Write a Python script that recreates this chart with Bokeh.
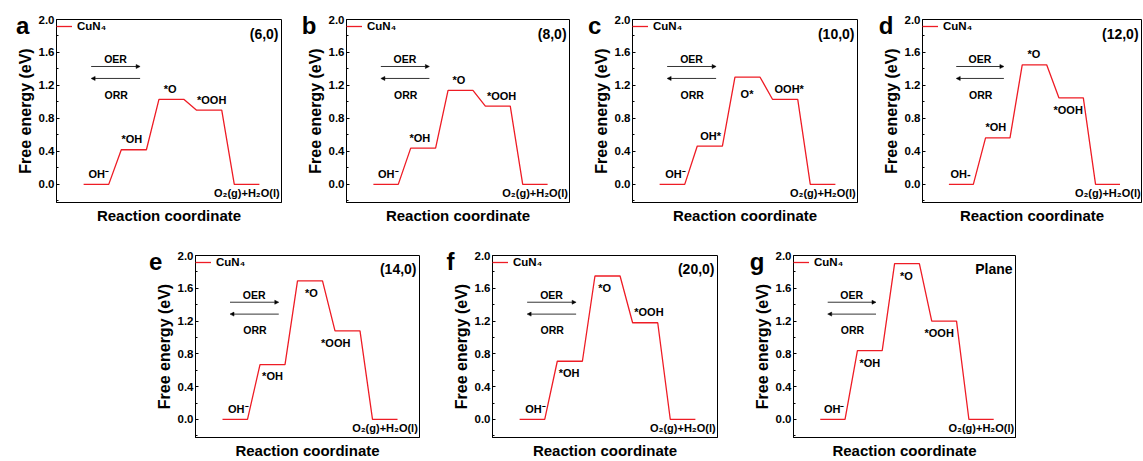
from bokeh.plotting import figure
from bokeh.models import (FixedTicker, Label, Arrow, NormalHead, Legend,
                          LegendItem, Spacer, PrintfTickFormatter)
from bokeh.layouts import row, column
from bokeh.embed import file_html
from bokeh.resources import INLINE
from bokeh.core.properties import value

# ---------------- data ----------------
panel_letters = ["a", "b", "c", "d", "e", "f", "g"]
structures = ["(6,0)", "(8,0)", "(10,0)", "(12,0)", "(14,0)", "(20,0)", "Plane"]
series_name = "CuN\u2084"

energy_a = [0.0, 0.42, 1.03, 0.90, 0.0]
energy_b = [0.0, 0.44, 1.14, 0.95, 0.0]
energy_c = [0.0, 0.465, 1.30, 1.03, 0.0]
energy_d = [0.0, 0.565, 1.45, 1.05, 0.0]
energy_e = [0.0, 0.67, 1.69, 1.08, 0.0]
energy_f = [0.0, 0.71, 1.75, 1.18, 0.0]
energy_g = [0.0, 0.84, 1.90, 1.20, 0.0]

states_std = ["OH\u207b", "*OH", "*O", "*OOH", "O\u2082(g)+H\u2082O(l)"]
states_c = ["OH\u207b", "OH*", "O*", "OOH*", "O\u2082(g)+H\u2082O(l)"]
states_d = ["OH-", "*OH", "*O", "*OOH", "O\u2082(g)+H\u2082O(l)"]

y_ticks = [0.0, 0.4, 0.8, 1.2, 1.6, 2.0]
y_minor = [-0.2, 0.2, 0.6, 1.0, 1.4, 1.8]

# ---------------- layout / style ----------------
RED = "#ee1c25"
INK = "black"
FONT = "Liberation Sans"
X0, X1 = -1.08, 7.88
Y0, Y1 = -0.22, 2.0

# label side for intermediate states (*OH, *O, *OOH): u = above, d = below
sides = {
    "a": "uuu", "b": "uuu", "c": "udu", "d": "uud",
    "e": "ddd", "f": "ddu", "g": "ddd",
}
# horizontal nudges of state labels (x units) relative to level centre
label_dx = {
    "a": [0.1, -0.08, -0.05, 0.1, 0.0],
    "b": [0.1, -0.13, -0.06, 0.15, 0.0],
    "c": [0.13, 0.03, -0.02, 0.16, 0.0],
    "d": [-0.02, -0.08, -0.02, -0.12, 0.0],
    "e": [0.13, 0.0, 0.06, -0.47, 0.0],
    "f": [0.13, -0.03, -0.11, 0.15, 0.0],
    "g": [0.06, 0.0, -0.02, -0.2, 0.0],
}
extra_dy_px = {("c", 2): -5}
letter_dx_px = {"a": -34, "b": -38, "c": -38, "d": -37, "e": -40, "f": -42, "g": -37}


def make_panel(letter, struct, energies, states, width, height, bl, br, bt, bb):
    fw = width - bl - br
    fh = height - bt - bb
    ux = (X1 - X0) / fw
    uy = (Y1 - Y0) / fh
    p = figure(width=width, height=height, x_range=(X0, X1), y_range=(Y0, Y1),
               output_backend="svg", toolbar_location=None,
               min_border_left=bl, min_border_right=br,
               min_border_top=bt, min_border_bottom=bb)
    p.background_fill_color = "white"
    p.border_fill_color = "white"
    p.outline_line_color = INK
    p.outline_line_width = 1
    p.outline_line_alpha = 1
    p.xgrid.visible = False
    p.ygrid.visible = False

    # step profile
    xs, ys = [], []
    for i, e in enumerate(energies):
        xs += [1.5 * i, 1.5 * i + 1]
        ys += [e, e]
    r = p.line(xs, ys, line_color=RED, line_width=1.3)

    legend = Legend(items=[LegendItem(label=series_name, renderers=[r])],
                    location="top_left", border_line_color=None,
                    background_fill_alpha=0, margin=0, padding=5,
                    glyph_width=16, glyph_height=14, label_height=14,
                    label_standoff=5, label_text_font=FONT,
                    label_text_font_style="bold", label_text_font_size="11.5px",
                    label_text_color=INK)
    p.add_layout(legend)

    # axes
    p.xaxis.ticker = FixedTicker(ticks=[])
    p.xaxis.axis_label = "Reaction coordinate"
    p.xaxis.axis_label_text_font = FONT
    p.xaxis.axis_label_text_font_style = "bold"
    p.xaxis.axis_label_text_font_size = "15px"
    p.xaxis.axis_label_text_color = INK
    p.xaxis.axis_label_standoff = 4
    p.xaxis.major_label_standoff = 0
    p.xaxis.major_tick_out = 0
    p.xaxis.minor_tick_out = 0

    p.yaxis.ticker = FixedTicker(ticks=y_ticks, minor_ticks=y_minor)
    p.yaxis.formatter = PrintfTickFormatter(format="%.1f")
    p.yaxis.axis_label = "Free energy (eV)"
    p.yaxis.axis_label_text_font = FONT
    p.yaxis.axis_label_text_font_style = "bold"
    p.yaxis.axis_label_text_font_size = "16px"
    p.yaxis.axis_label_text_color = INK
    p.yaxis.axis_label_standoff = 2
    p.yaxis.major_label_text_font = FONT
    p.yaxis.major_label_text_font_style = "bold"
    p.yaxis.major_label_text_font_size = "11.5px"
    p.yaxis.major_label_text_color = INK
    p.yaxis.major_label_standoff = 2
    p.yaxis.major_tick_in = 3
    p.yaxis.major_tick_out = 0
    p.yaxis.minor_tick_in = 2
    p.yaxis.minor_tick_out = 0
    for ax in (p.xaxis, p.yaxis):
        ax.axis_line_color = INK
        ax.axis_line_width = 1
        ax.major_tick_line_color = INK
        ax.minor_tick_line_color = INK

    # state labels
    lx, ly, lt = [], [], []
    sd = sides[letter]
    for i, (e, s) in enumerate(zip(energies, states)):
        if i == 4:
            continue
        side = "u" if i == 0 else sd[i - 1]
        dy = 10.5 if side == "u" else -12
        dy += extra_dy_px.get((letter, i), 0)
        lx.append(1.5 * i + 0.5 + label_dx[letter][i])
        ly.append(e + dy * uy)
        lt.append(s)
    p.text(x=lx, y=ly, text=lt, text_font=value(FONT), text_font_style="bold",
           text_font_size="11px", text_align="center", text_baseline="middle",
           text_color=INK)
    p.text(x=[6.5 + label_dx[letter][4]], y=[energies[4] - 9 * uy], text=[states[4]],
           text_font=value(FONT), text_font_style="bold", text_font_size="11px",
           text_align="center", text_baseline="middle", text_color=INK)

    # OER / ORR arrows
    head = dict(size=4, fill_color=INK, line_color=INK, line_width=0.5)
    p.add_layout(Arrow(x_start=0.3, y_start=1.43, x_end=2.25, y_end=1.43,
                       end=NormalHead(**head), line_width=0.8, line_color=INK))
    p.add_layout(Arrow(x_start=2.25, y_start=1.285, x_end=0.3, y_end=1.285,
                       end=NormalHead(**head), line_width=0.8, line_color=INK))
    p.add_layout(Label(x=1.27, y=1.515, text="OER", text_font=FONT,
                       text_font_style="bold", text_font_size="10.5px",
                       text_color=INK, text_align="center", text_baseline="middle"))
    p.add_layout(Label(x=1.3, y=1.09, text="ORR", text_font=FONT,
                       text_font_style="bold", text_font_size="10.5px",
                       text_color=INK, text_align="center", text_baseline="middle"))

    # structure tag
    p.add_layout(Label(x=X1 - 3 * ux, y=Y1 - 14 * uy, text=struct, text_font=FONT,
                       text_font_style="bold", text_font_size="14px", text_color=INK,
                       text_align="right", text_baseline="middle"))
    # panel letter (placed in the left side panel so it is not clipped to the frame)
    p.add_layout(Label(x=X0 + letter_dx_px[letter] * ux, y=Y1 - 6 * uy, text=letter,
                       text_font=FONT, text_font_style="bold", text_font_size="24px",
                       text_color=INK, text_align="center", text_baseline="middle"),
                 "left")
    return p


energies = [energy_a, energy_b, energy_c, energy_d, energy_e, energy_f, energy_g]
states = [states_std, states_std, states_c, states_d, states_std, states_std, states_std]

top_specs = [(288, 7), (288, 7), (288, 7), (279, 2)]
top = []
for k in range(4):
    w, br = top_specs[k]
    top.append(make_panel(panel_letters[k], structures[k], energies[k], states[k],
                          w, 235, 55, br, 19, 33))
bottom = [Spacer(width=139, height=226)]
for k in range(4, 7):
    bottom.append(make_panel(panel_letters[k], structures[k], energies[k], states[k],
                             298, 226, 55, 18, 20, 23))

layout = column(row(*top), row(*bottom))
open("out.html", "w").write(file_html(layout, INLINE))
